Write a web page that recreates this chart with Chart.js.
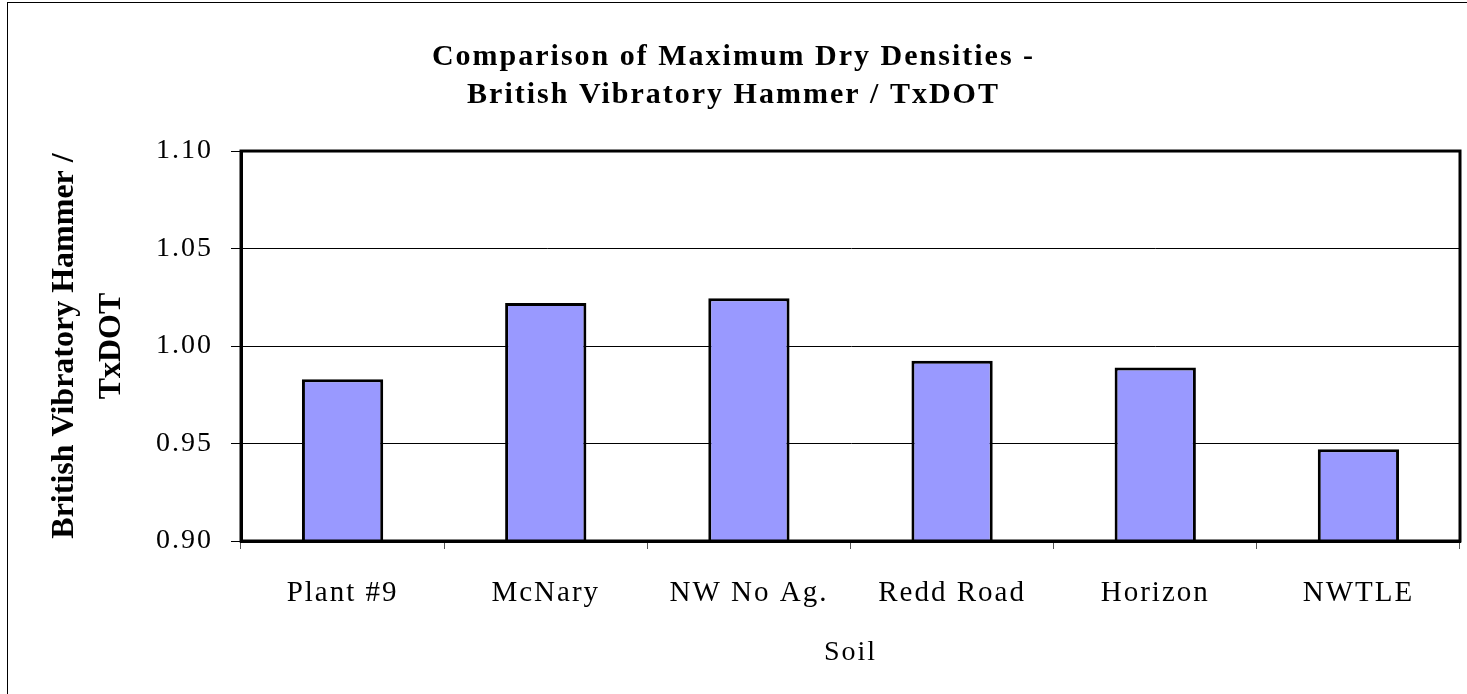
<!DOCTYPE html>
<html>
<head>
<meta charset="utf-8">
<script src="https://cdn.jsdelivr.net/npm/chart.js@4.4.0/dist/chart.umd.min.js"></script>
<style>
    html, body { margin: 0; padding: 0; background: #fff; }
    #wrap { position: relative; width: 1467px; height: 694px; overflow: hidden; }
    #frame {
        position: absolute; left: 7px; top: 2px; width: 2000px; height: 2000px;
        border-left: 1px solid #000; border-top: 1px solid #000; pointer-events: none;
    }
</style>
</head>
<body>
<div id="wrap">
    <canvas id="densityChart" width="1467" height="694"></canvas>
    <div id="frame"></div>
</div>
<script>
    "use strict";

    const soils = ["Plant #9", "McNary", "NW No Ag.", "Redd Road", "Horizon", "NWTLE"];
    const ratios = [0.983, 1.022, 1.0245, 0.9925, 0.989, 0.947];
    const yMin = 0.9;
    const yMax = 1.1;
    const yStep = 0.05;

    const serif = "'Liberation Serif', 'Times New Roman', serif";

    // Excel-ish wide text, except the rotated y title
    const spacing = {
        id: "spacing",
        beforeUpdate: (chart) => { chart.ctx.letterSpacing = "2px"; },
        afterLayout: (chart) => {
            const yScale = chart.scales.y;
            if (yScale && !yScale._noSpacing) {
                const drawTitle = yScale.drawTitle;
                yScale.drawTitle = function () {
                    const c = this.ctx;
                    const prev = c.letterSpacing;
                    c.letterSpacing = "0px";
                    drawTitle.call(this);
                    c.letterSpacing = prev;
                };
                yScale._noSpacing = true;
            }
        },
        beforeDraw: (chart) => { chart.ctx.letterSpacing = "2px"; },
    };

    // thick frame round the plot area
    const plotFrame = {
        id: "plotFrame",
        afterDraw: (chart) => {
            const { ctx, chartArea } = chart;
            ctx.save();
            ctx.strokeStyle = "#000";
            ctx.lineWidth = 3;
            ctx.strokeRect(chartArea.left, chartArea.top, chartArea.right - chartArea.left, chartArea.bottom - chartArea.top);
            ctx.restore();
        },
    };

    const ctx = document.getElementById("densityChart").getContext("2d");
    const densityChart = new Chart(ctx, {
        type: "bar",
        data: {
            labels: soils,
            datasets: [
                {
                    label: "British Vibratory Hammer / TxDOT",
                    data: ratios,
                    backgroundColor: "#9999FF",
                    borderColor: "#000",
                    borderWidth: 3,
                    borderSkipped: false,
                    barPercentage: 0.4,
                    categoryPercentage: 1.0,
                },
            ],
        },
        options: {
            responsive: false,
            animation: false,
            devicePixelRatio: 1,
            layout: {
                padding: { left: 7, right: 7, top: 0, bottom: 0 },
            },
            plugins: {
                legend: { display: false },
                tooltip: { enabled: false },
                title: {
                    display: true,
                    text: ["Comparison of Maximum Dry Densities -", "British Vibratory Hammer / TxDOT"],
                    color: "#000",
                    font: { family: serif, size: 30, weight: "bold", lineHeight: 1.267 },
                    padding: { top: 38, bottom: 37 },
                },
            },
            scales: {
                x: {
                    grid: {
                        offset: true,
                        drawOnChartArea: false,
                        drawTicks: true,
                        tickLength: 8,
                        tickColor: "#555",
                        lineWidth: 1,
                    },
                    border: { display: true, color: "#000", width: 3 },
                    ticks: {
                        color: "#000",
                        font: { family: serif, size: 29 },
                        padding: 27,
                        maxRotation: 0,
                    },
                    title: {
                        display: true,
                        text: "Soil",
                        color: "#000",
                        font: { family: serif, size: 28 },
                        padding: { top: 0, bottom: 25 },
                    },
                    afterFit: (scale) => { scale.height = 153; },
                },
                y: {
                    min: yMin,
                    max: yMax,
                    grid: {
                        color: "#000",
                        lineWidth: 1,
                        drawTicks: true,
                        tickLength: 10,
                        tickColor: "#000",
                    },
                    border: { display: true, color: "#000", width: 3 },
                    ticks: {
                        stepSize: yStep,
                        color: "#000",
                        font: { family: serif, size: 28 },
                        padding: 18,
                        callback: (value) => value.toFixed(2),
                    },
                    title: {
                        display: true,
                        text: ["British Vibratory Hammer /", "TxDOT"],
                        color: "#000",
                        font: { family: serif, size: 32, weight: "bold", lineHeight: 1.47 },
                        padding: { top: 34, bottom: 0 },
                    },
                    afterFit: (scale) => { scale.width = 234; },
                },
            },
        },
        plugins: [spacing, plotFrame],
    });
</script>
</body>
</html>
